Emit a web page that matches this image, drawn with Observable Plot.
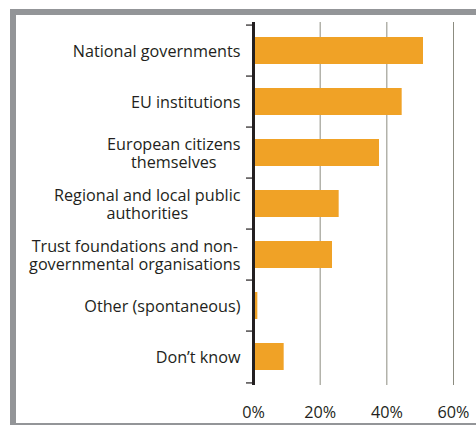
<!DOCTYPE html>
<html><head><meta charset="utf-8">
<script src="https://cdn.jsdelivr.net/npm/d3@7"></script>
<script src="https://cdn.jsdelivr.net/npm/@observablehq/plot@0.6"></script>
<style>
html,body{margin:0;padding:0;background:#fff;}
#wrap{position:relative;width:476px;height:425px;overflow:hidden;}
#chart{position:absolute;left:0;top:0;}
#frame{position:absolute;left:10px;top:9px;width:480px;height:408px;border-left:6px solid #939598;border-top:6px solid #939598;border-bottom:2px solid #939598;pointer-events:none;}
</style></head><body>
<div id="wrap"><div id="chart"></div><div id="frame"></div></div>
<script>
const categories = [
  "National governments",
  "EU institutions",
  "European citizens\nthemselves",
  "Regional and local public\nauthorities",
  "Trust foundations and non-\ngovernmental organisations",
  "Other (spontaneous)",
  "Don\u2019t know"
];
const values = [51, 44.6, 37.8, 25.7, 23.7, 1.3, 9.2];
const xTicks = [0, 20, 40, 60];

const data = categories.map((c, i) => ({category: c, value: values[i]}));

const W = 476, H = 425, mTop = 22, mBottom = 40, mLeft = 253, mRight = 23;
const step = (H - mTop - mBottom) / categories.length;
const fontSize = 16.2, fontFamily = "'Open Sans', sans-serif";
const ink = "#231f20";

const ctx = document.createElement("canvas").getContext("2d");
ctx.font = `${fontSize}px ${fontFamily}`;
const gap = 13;

const labelMarks = categories.map(c => {
  const w = Math.max(...c.split("\n").map(s => ctx.measureText(s).width));
  return Plot.text([c], {
    x: 0, y: d => d, text: d => d,
    textAnchor: "middle", lineAnchor: "middle", lineHeight: 1.16,
    dx: -(gap + w / 2), fill: ink
  });
});

const plot = Plot.plot({
  width: W, height: H,
  marginTop: mTop, marginBottom: mBottom, marginLeft: mLeft, marginRight: mRight,
  style: {fontSize: fontSize + "px", fontFamily, background: "transparent", color: ink},
  x: {domain: [0, 60], axis: null, label: null},
  y: {domain: categories, paddingInner: 0.48, paddingOuter: 0.24, axis: null, label: null},
  marks: [
    Plot.ruleX(xTicks.filter(d => d > 0), {stroke: "#8c8c80", strokeWidth: 1}),
    Plot.barX(data, {x: "value", y: "category", fill: "#F0A226"}),
    Plot.ruleX([0], {stroke: ink, strokeWidth: 3}),
    Plot.ruleY(categories, {y: d => d, x1: 0, x2: 0, insetLeft: -7, dy: -step / 2, stroke: ink, strokeWidth: 1.2}),
    Plot.ruleY([categories[categories.length - 1]], {y: d => d, x1: 0, x2: 0, insetLeft: -7, dy: step / 2, stroke: ink, strokeWidth: 1.2}),
    Plot.axisX({ticks: xTicks, tickFormat: d => d + "%", tickSize: 0, tickPadding: 21, fill: ink, label: null}),
    ...labelMarks
  ]
});
document.getElementById("chart").appendChild(plot);
</script>
</body></html>
